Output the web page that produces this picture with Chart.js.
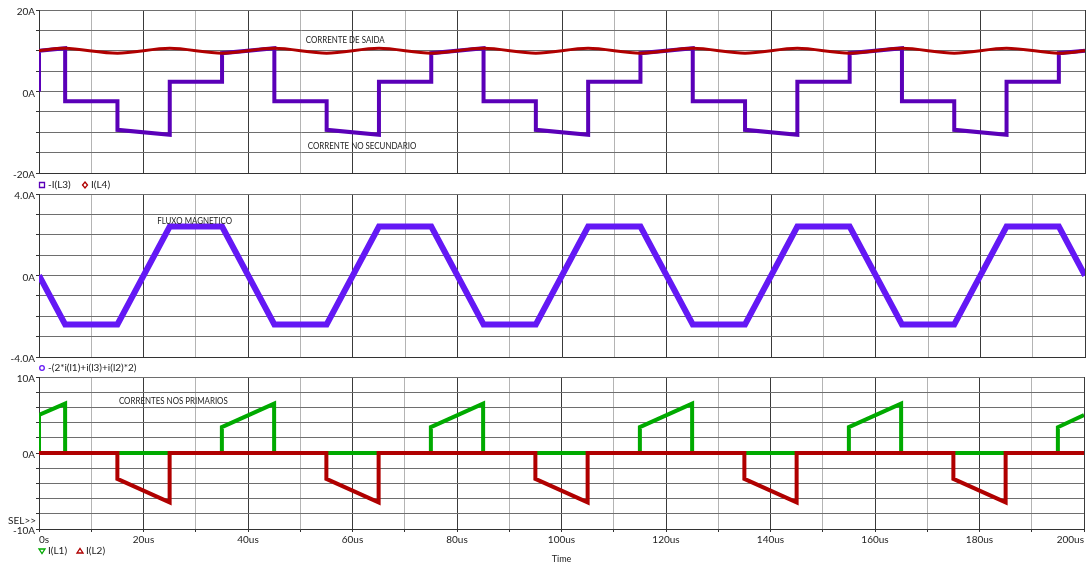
<!DOCTYPE html>
<html>
<head>
<meta charset="utf-8">
<script src="https://cdn.jsdelivr.net/npm/chart.js@4"></script>
<style>
  body { margin: 0; background: #fff; overflow: hidden; }
  canvas { position: absolute; left: 0; }
</style>
</head>
<body>
<canvas id="chartTop" width="1086" height="192" style="top:0px"></canvas>
<canvas id="chartMid" width="1086" height="190" style="top:184px"></canvas>
<canvas id="chartBot" width="1086" height="197" style="top:367px"></canvas>
<script>
// time in us, currents in A
const tL3 = [0, 0, 5, 5, 15, 15, 25, 25, 35, 35, 45, 45, 55, 55, 65, 65, 75, 75, 85, 85, 95, 95,
  105, 105, 115, 115, 125, 125, 135, 135, 145, 145, 155, 155, 165, 165, 175, 175, 185, 185, 195, 195, 200];
const iL3 = [0, 10.0, 10.6, -2.4, -2.4, -9.4, -10.6, 2.4, 2.4, 9.4, 10.6, -2.4, -2.4, -9.4, -10.6, 2.4, 2.4, 9.4, 10.6, -2.4, -2.4, -9.4,
  -10.6, 2.4, 2.4, 9.4, 10.6, -2.4, -2.4, -9.4, -10.6, 2.4, 2.4, 9.4, 10.6, -2.4, -2.4, -9.4, -10.6, 2.4, 2.4, 9.4, 10.0];

const tL4 = [0, 5, 15, 25, 35, 45, 55, 65, 75, 85, 95, 105, 115, 125, 135, 145, 155, 165, 175, 185, 195, 200];
const iL4 = [10.0, 10.6, 9.4, 10.6, 9.4, 10.6, 9.4, 10.6, 9.4, 10.6, 9.4, 10.6, 9.4, 10.6, 9.4, 10.6, 9.4, 10.6, 9.4, 10.6, 9.4, 10.0];

const tFlux = [0, 5, 15, 25, 35, 45, 55, 65, 75, 85, 95, 105, 115, 125, 135, 145, 155, 165, 175, 185, 195, 200];
const flux = [0, -2.4, -2.4, 2.4, 2.4, -2.4, -2.4, 2.4, 2.4, -2.4, -2.4, 2.4, 2.4, -2.4, -2.4, 2.4, 2.4, -2.4, -2.4, 2.4, 2.4, 0];

const tL1 = [0, 0, 5, 5, 35, 35, 45, 45, 75, 75, 85, 85, 115, 115, 125, 125, 155, 155, 165, 165, 195, 195, 200];
const iL1 = [0, 5.0, 6.5, 0, 0, 3.4, 6.5, 0, 0, 3.4, 6.5, 0, 0, 3.4, 6.5, 0, 0, 3.4, 6.5, 0, 0, 3.4, 5.0];

const tL2 = [0, 15, 15, 25, 25, 55, 55, 65, 65, 95, 95, 105, 105, 135, 135, 145, 145, 175, 175, 185, 185, 200];
const iL2 = [0, 0, -3.4, -6.5, 0, 0, -3.4, -6.5, 0, 0, -3.4, -6.5, 0, 0, -3.4, -6.5, 0, 0, -3.4, -6.5, 0, 0];

const FONT = 'Lato, "Open Sans", sans-serif';
Chart.defaults.font.family = FONT;
Chart.defaults.font.size = 10;
Chart.defaults.color = "#222";

function pts(ts, vs) {
  return ts.map((t, i) => ({ x: t, y: vs[i] }));
}

function marker(ctx, shape, x, y, color) {
  ctx.strokeStyle = color;
  ctx.lineWidth = 1.3;
  ctx.beginPath();
  if (shape === "square") ctx.rect(x - 2.5, y - 2.5, 5, 5);
  if (shape === "diamond") { ctx.moveTo(x, y - 3); ctx.lineTo(x + 2.5, y); ctx.lineTo(x, y + 3); ctx.lineTo(x - 2.5, y); ctx.closePath(); }
  if (shape === "circle") ctx.arc(x, y, 2.3, 0, Math.PI * 2);
  if (shape === "down") { ctx.moveTo(x - 3, y - 2); ctx.lineTo(x + 3, y - 2); ctx.lineTo(x, y + 2.5); ctx.closePath(); }
  if (shape === "up") { ctx.moveTo(x - 3, y + 2); ctx.lineTo(x + 3, y + 2); ctx.lineTo(x, y - 2.5); ctx.closePath(); }
  ctx.stroke();
}

const notes = {
  id: "notes",
  afterDraw(chart, args, opts) {
    const { ctx, chartArea: a, scales: { x, y } } = chart;
    ctx.save();
    ctx.textBaseline = "middle";
    ctx.fillStyle = "#222";
    ctx.font = "9px " + FONT;
    // the plot labels are a bit narrower than Lato
    (opts.texts || []).forEach(n => {
      const px = x.getPixelForValue(n.x);
      const py = y.getPixelForValue(n.y);
      ctx.save();
      ctx.translate(px, py);
      ctx.scale(0.88, 1);
      ctx.fillText(n.text, 0, 0);
      ctx.restore();
    });
    ctx.font = "10px " + FONT;
    (opts.keys || []).forEach(k => {
      const ky = a.bottom + opts.keyDy;
      marker(ctx, k.shape, a.left + k.dx, ky, k.color);
      ctx.fillStyle = "#222";
      ctx.fillText(k.label, a.left + k.dx + 6, ky);
    });
    if (opts.sel) {
      ctx.textAlign = "right";
      ctx.fillText("SEL>>", a.left - 3, a.bottom - 8);
    }
    ctx.restore();
  }
};

function panel(id, datasets, yMin, yMax, yStep, yLabels, showX, padBottom, noteOpts) {
  new Chart(id, {
    type: "line",
    data: { datasets: datasets },
    plugins: [notes],
    options: {
      responsive: false,
      animation: false,
      events: [],
      layout: { padding: { top: 10, right: 1, bottom: padBottom, left: 0 } },
      elements: { point: { radius: 0 }, line: { tension: 0, borderCapStyle: "butt", borderJoinStyle: "miter" } },
      plugins: { legend: { display: false }, tooltip: { enabled: false }, notes: noteOpts },
      scales: {
        x: {
          type: "linear",
          min: 0,
          max: 200,
          ticks: {
            stepSize: 10,
            display: showX,
            autoSkip: false,
            maxRotation: 0,
            align: "inner",
            padding: 2,
            callback: v => (v % 20 === 0 ? (v === 0 ? "0s" : v + "us") : "")
          },
          grid: {
            color: c => (c.tick && c.tick.value % 20 === 0 ? "#3a3a3a" : "#b4b4b4"),
            drawTicks: showX,
            tickLength: 3,
            tickColor: "#333"
          },
          border: { color: "#333" },
          title: { display: showX, text: "Time", padding: { top: 3, bottom: 0 }, font: { size: 9 } },
          afterFit: s => { s.height = showX ? 35 : 0; }
        },
        y: {
          min: yMin,
          max: yMax,
          ticks: {
            stepSize: yStep,
            autoSkip: false,
            padding: 1,
            labelOffset: 2,
            callback: v => yLabels[v] || ""
          },
          grid: { color: "#6e6e6e", tickLength: 3, tickColor: "#333" },
          border: { color: "#333" },
          afterFit: s => { s.width = 39; }
        }
      }
    }
  });
}

panel("chartTop", [
  { label: "I(L4)", data: pts(tL4, iL4), borderColor: "#b00000", borderWidth: 3, tension: 0.3, order: 0 },
  { label: "-I(L3)", data: pts(tL3, iL3), borderColor: "#5a00b8", borderWidth: 4, order: 1 }
], -20, 20, 5, { "20": "20A", "0": "0A", "-20": "-20A" }, false, 19, {
  texts: [
    { text: "CORRENTE DE SAIDA", x: 51, y: 12.7 },
    { text: "CORRENTE NO SECUNDARIO", x: 51.4, y: -13.4 }
  ],
  keyDy: 12,
  keys: [
    { shape: "square", color: "#5a00b8", label: "-I(L3)", dx: 3 },
    { shape: "diamond", color: "#b00000", label: "I(L4)", dx: 46 }
  ]
});

panel("chartMid", [
  { label: "-(2*i(l1)+i(l3)+i(l2)*2)", data: pts(tFlux, flux), borderColor: "#6418f5", borderWidth: 6 }
], -4, 4, 1, { "4": "4.0A", "0": "0A", "-4": "-4.0A" }, false, 17, {
  texts: [
    { text: "FLUXO MAGNETICO", x: 22.6, y: 2.66 }
  ],
  keyDy: 11,
  keys: [
    { shape: "circle", color: "#6418f5", label: "-(2*i(l1)+i(l3)+i(l2)*2)", dx: 3 }
  ]
});

panel("chartBot", [
  { label: "I(L2)", data: pts(tL2, iL2), borderColor: "#b00000", borderWidth: 4, order: 0 },
  { label: "I(L1)", data: pts(tL1, iL1), borderColor: "#00aa00", borderWidth: 4, order: 1 }
], -10, 10, 2, { "10": "10A", "0": "0A", "-10": "-10A" }, true, 0, {
  texts: [
    { text: "CORRENTES NOS PRIMARIOS", x: 15.3, y: 6.8 }
  ],
  keyDy: 22,
  sel: true,
  keys: [
    { shape: "down", color: "#00aa00", label: "I(L1)", dx: 3 },
    { shape: "up", color: "#b00000", label: "I(L2)", dx: 41 }
  ]
});
</script>
</body>
</html>
